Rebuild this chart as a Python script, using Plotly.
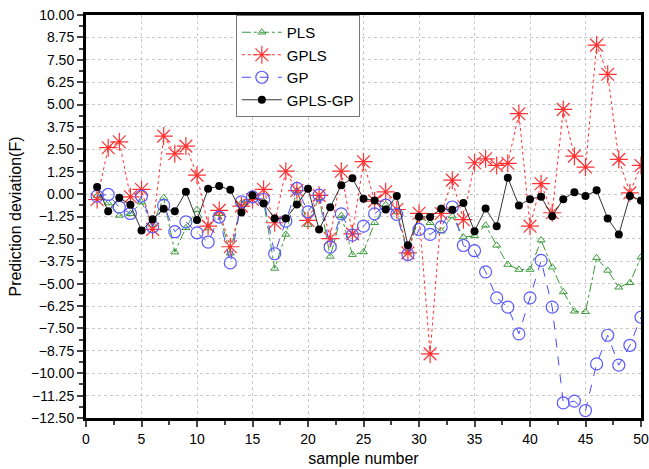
import plotly.graph_objects as go

samples = list(range(1, 51))

pls = [-0.1, -0.5, -1.19, -1.1, -0.45, -1.7, -0.2, -3.24, -1.88, -0.86,
       -1.9, -1.1, -3.3, -0.5, -0.2, -0.4, -4.15, -2.25, 0.2, -1.7,
       -0.2, -3.48, -1.2, -3.38, -3.23, -1.6, -0.6, -1.0, -3.25, -1.3,
       -1.6, -2.07, -1.23, -2.4, -2.32, -1.74, -2.86, -3.93, -4.21, -4.21,
       -2.57, -4.08, -5.46, -6.54, -6.57, -3.56, -4.26, -5.2, -4.95, -3.52]

gpls = [-0.3, 2.59, 2.92, -0.15, 0.26, -1.97, 3.24, 2.25, 2.68, 1.06,
        -1.79, -0.91, -2.94, -0.67, -0.3, 0.26, -1.6, 1.28, 0.2, -1.47,
        -0.07, -2.48, 1.28, -2.22, 1.81, -0.39, 0.13, -0.86, -3.28, -1.07,
        -8.92, -1.08, 0.78, -1.43, 1.75, 1.97, 1.6, 1.72, 4.49, -1.79,
        0.58, -1.04, 4.73, 2.12, 1.51, 8.32, 6.69, 1.94, 0.07, 1.6]

gp = [-0.11, -0.02, -0.73, -1.08, -0.11, -1.83, -0.63, -2.1, -1.55, -2.16,
      -2.68, -1.28, -3.84, -0.43, -0.15, -0.3, -3.33, -1.51, 0.32, -0.99,
      -0.06, -2.96, -1.1, -2.29, -1.79, -1.1, -0.61, -1.13, -3.37, -1.97,
      -2.25, -1.83, -0.72, -2.87, -3.16, -4.34, -5.79, -6.31, -7.8, -5.79,
      -3.7, -6.31, -11.66, -11.56, -12.08, -9.48, -7.88, -9.55, -8.44, -6.87]

gpls_gp = [0.4, -0.95, -0.2, -0.6, -2.03, -1.41, -0.82, -0.95, 0.13, -1.45,
           0.3, 0.45, 0.24, -1.02, -0.07, -0.52, -1.36, -1.36, -0.58, 0.3,
           -1.97, -0.73, 0.5, 0.88, -0.26, -0.35, -0.86, -0.11, -2.85, -1.27,
           -1.28, -0.82, -0.87, -0.5, -2.07, -0.81, -1.79, 0.91, -0.63, -0.28,
           -0.15, -1.23, -0.28, 0.11, -0.11, 0.21, -1.36, -2.25, -0.11, -0.35]

fig = go.Figure()
fig.add_trace(go.Scatter(
    x=samples, y=pls, name="PLS", mode="lines+markers",
    line=dict(color="#3a9a3a", width=1, dash="dashdot"),
    marker=dict(symbol="triangle-up-open", size=7, color="#3a9a3a",
                line=dict(width=1, color="#3a9a3a"))))
fig.add_trace(go.Scatter(
    x=samples, y=gpls, name="GPLS", mode="lines+markers",
    line=dict(color="#ff3030", width=1, dash="dot"),
    marker=dict(symbol="asterisk-open", size=15, color="#ff3030",
                line=dict(width=1.2, color="#ff3030"))))
fig.add_trace(go.Scatter(
    x=samples, y=gp, name="GP", mode="lines+markers",
    line=dict(color="#4a4aff", width=1, dash="dash"),
    marker=dict(symbol="circle-open", size=12, color="#5a5aff",
                line=dict(width=1.2, color="#5a5aff"))))
fig.add_trace(go.Scatter(
    x=samples, y=gpls_gp, name="GPLS-GP", mode="lines+markers",
    line=dict(color="#333333", width=1),
    marker=dict(symbol="circle", size=8, color="black")))

fig.update_layout(
    width=649, height=469,
    margin=dict(l=86, r=8, t=15, b=51),
    paper_bgcolor="white", plot_bgcolor="white",
    font=dict(family="Liberation Sans, Arial, sans-serif", size=14, color="black"),
    legend=dict(x=0.27, y=1.0, xanchor="left", yanchor="top",
                bgcolor="white", bordercolor="#777777", borderwidth=1,
                font=dict(size=15), tracegroupgap=0, itemwidth=40),
    showlegend=True,
)
fig.update_xaxes(
    range=[0, 50], tick0=0, dtick=5, ticks="outside", ticklen=6, tickwidth=2,
    showline=True, linewidth=3, linecolor="black", mirror=True,
    showgrid=True, gridcolor="#c8c8c8", griddash="dot", gridwidth=1,
    zeroline=False, automargin=False,
    minor=dict(dtick=2.5, ticks="outside", ticklen=4, tickwidth=2, showgrid=False),
    title=dict(text="sample number", font=dict(size=16), standoff=8),
    tickfont=dict(size=14),
)
fig.update_yaxes(
    range=[-12.5, 10], tick0=-12.5, dtick=1.25, tickformat=".2f",
    ticks="outside", ticklen=6, tickwidth=2, automargin=False,
    showline=True, linewidth=3, linecolor="black", mirror=True,
    showgrid=True, gridcolor="#c8c8c8", griddash="dot", gridwidth=1,
    zeroline=False,
    minor=dict(dtick=0.625, ticks="outside", ticklen=4, tickwidth=2, showgrid=False),
    title=dict(text="Prediction deviation(F)", font=dict(size=16), standoff=6),
    tickfont=dict(size=14),
)

fig.write_html("out.html")
